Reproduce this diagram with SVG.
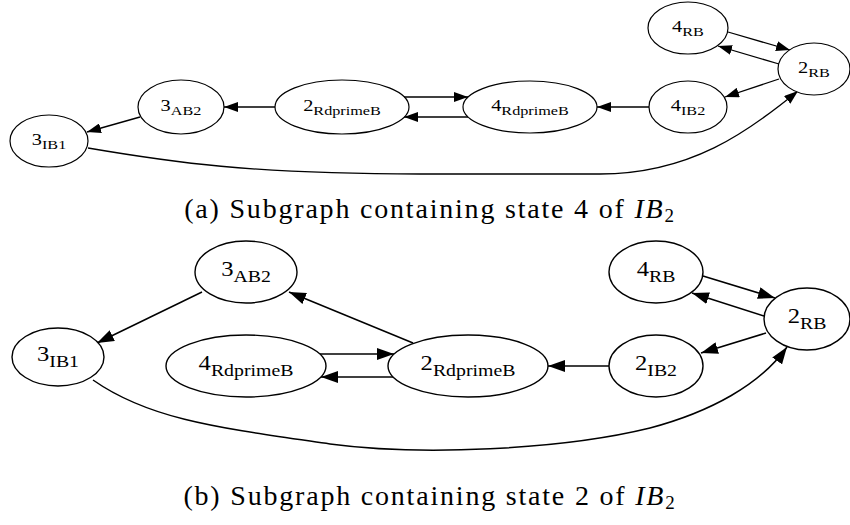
<svg xmlns="http://www.w3.org/2000/svg" width="850" height="525" viewBox="0 0 850 525">
  <style>
    .node ellipse { fill: #fff; stroke: #000; }
    .ga .node ellipse { stroke-width: 1.2; }
    .gb .node ellipse { stroke-width: 1.4; }
    .edges path { fill: none; stroke: #000; }
    .ga .edges path { stroke-width: 1.3; marker-end: url(#arrA); }
    .gb .edges path { stroke-width: 1.5; marker-end: url(#arrB); }
    text { font-family: "Liberation Serif", "Times New Roman", serif; fill: #000; }
    .lbl { text-anchor: middle; }
    .ga .d { font-size: 17px; }
    .ga .s { font-size: 13.5px; }
    .gb .d { font-size: 20.5px; }
    .gb .s { font-size: 16.5px; }
    .cap { font-size: 28px; letter-spacing: 1.8px; text-anchor: middle; }
    .cap .it { font-style: italic; }
    .cap .sub { font-size: 19px; }
  </style>
  <defs>
    <marker id="arrA" markerUnits="userSpaceOnUse" viewBox="0 0 14 10" markerWidth="14" markerHeight="10" refX="14" refY="5" orient="auto">
      <path d="M0,0 L14,5 L0,10 z" fill="#000"/>
    </marker>
    <marker id="arrB" markerUnits="userSpaceOnUse" viewBox="0 0 17 12" markerWidth="17" markerHeight="12" refX="17" refY="6" orient="auto">
      <path d="M0,0 L17,6 L0,12 z" fill="#000"/>
    </marker>
  </defs>

  <!-- Subgraph (a) -->
  <g id="graph-a" class="ga">
    <g id="edges-a" class="edges">
      <path d="M140,117 L87,132"/>
      <path d="M275,107 L224,107"/>
      <path d="M404,97 L468,97"/>
      <path d="M468,117 L404,117"/>
      <path d="M649,107 L597,107"/>
      <path d="M728,32 L790,50"/>
      <path d="M779,64 L718,46"/>
      <path d="M779,79 L725,97"/>
      <path d="M88,148 C170,162 250,174 420,174 L600,174 C690,174 748,132 798,91"/>
    </g>
    <g id="a-3IB1" class="node">
      <ellipse cx="49" cy="141" rx="39" ry="26"/>
      <text class="lbl" transform="translate(49,145) scale(1.2,1)"><tspan class="d">3</tspan><tspan class="s" dy="4">IB1</tspan></text>
    </g>
    <g id="a-3AB2" class="node">
      <ellipse cx="181" cy="107" rx="43" ry="27"/>
      <text class="lbl" transform="translate(181,111) scale(1.2,1)"><tspan class="d">3</tspan><tspan class="s" dy="4">AB2</tspan></text>
    </g>
    <g id="a-2RdprimeB" class="node">
      <ellipse cx="342" cy="107" rx="67" ry="27"/>
      <text class="lbl" transform="translate(342,111) scale(1.2,1)"><tspan class="d">2</tspan><tspan class="s" dy="4">RdprimeB</tspan></text>
    </g>
    <g id="a-4RdprimeB" class="node">
      <ellipse cx="530" cy="107" rx="67" ry="26"/>
      <text class="lbl" transform="translate(530,111) scale(1.2,1)"><tspan class="d">4</tspan><tspan class="s" dy="4">RdprimeB</tspan></text>
    </g>
    <g id="a-4IB2" class="node">
      <ellipse cx="688" cy="107" rx="39" ry="26"/>
      <text class="lbl" transform="translate(688,111) scale(1.2,1)"><tspan class="d">4</tspan><tspan class="s" dy="4">IB2</tspan></text>
    </g>
    <g id="a-4RB" class="node">
      <ellipse cx="688" cy="28" rx="40" ry="26"/>
      <text class="lbl" transform="translate(688,32) scale(1.2,1)"><tspan class="d">4</tspan><tspan class="s" dy="4">RB</tspan></text>
    </g>
    <g id="a-2RB" class="node">
      <ellipse cx="814" cy="69" rx="36" ry="26"/>
      <text class="lbl" transform="translate(814,73) scale(1.2,1)"><tspan class="d">2</tspan><tspan class="s" dy="4">RB</tspan></text>
    </g>
  </g>
  <text class="cap" x="430" y="218">(a) Subgraph containing state 4 of <tspan class="it">IB</tspan><tspan class="sub" dy="4">2</tspan></text>

  <!-- Subgraph (b) -->
  <g id="graph-b" class="gb">
    <g id="edges-b" class="edges">
      <path d="M202,292 L97,343"/>
      <path d="M413,343 L289,292"/>
      <path d="M320,354 L394,354"/>
      <path d="M393,377 L321,377"/>
      <path d="M609,366 L548,366"/>
      <path d="M703,276 L775,298"/>
      <path d="M764,316 L692,293"/>
      <path d="M766,333 L701,353"/>
      <path d="M93,380 C150,420 220,428 330,444 C420,456 560,450 650,428 C710,412 760,385 787,347"/>
    </g>
    <g id="b-3AB2" class="node">
      <ellipse cx="246" cy="272" rx="51" ry="31"/>
      <text class="lbl" transform="translate(246,276) scale(1.2,1)"><tspan class="d">3</tspan><tspan class="s" dy="5.5">AB2</tspan></text>
    </g>
    <g id="b-3IB1" class="node">
      <ellipse cx="58" cy="357" rx="46" ry="29"/>
      <text class="lbl" transform="translate(58,361) scale(1.2,1)"><tspan class="d">3</tspan><tspan class="s" dy="5.5">IB1</tspan></text>
    </g>
    <g id="b-4RdprimeB" class="node">
      <ellipse cx="246" cy="366" rx="80" ry="31"/>
      <text class="lbl" transform="translate(246,370) scale(1.2,1)"><tspan class="d">4</tspan><tspan class="s" dy="5.5">RdprimeB</tspan></text>
    </g>
    <g id="b-2RdprimeB" class="node">
      <ellipse cx="468" cy="366" rx="80" ry="31"/>
      <text class="lbl" transform="translate(468,370) scale(1.2,1)"><tspan class="d">2</tspan><tspan class="s" dy="5.5">RdprimeB</tspan></text>
    </g>
    <g id="b-2IB2" class="node">
      <ellipse cx="656" cy="366" rx="47" ry="31"/>
      <text class="lbl" transform="translate(656,370) scale(1.2,1)"><tspan class="d">2</tspan><tspan class="s" dy="5.5">IB2</tspan></text>
    </g>
    <g id="b-4RB" class="node">
      <ellipse cx="656" cy="272" rx="47" ry="31"/>
      <text class="lbl" transform="translate(656,276) scale(1.2,1)"><tspan class="d">4</tspan><tspan class="s" dy="5.5">RB</tspan></text>
    </g>
    <g id="b-2RB" class="node">
      <ellipse cx="807" cy="319" rx="43" ry="31"/>
      <text class="lbl" transform="translate(807,323) scale(1.2,1)"><tspan class="d">2</tspan><tspan class="s" dy="5.5">RB</tspan></text>
    </g>
  </g>
  <text class="cap" x="430" y="505">(b) Subgraph containing state 2 of <tspan class="it">IB</tspan><tspan class="sub" dy="4">2</tspan></text>
</svg>
